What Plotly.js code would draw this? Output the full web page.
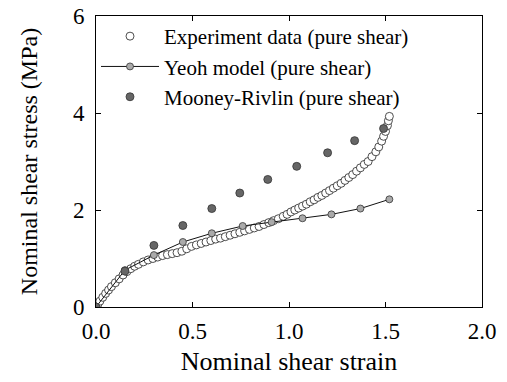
<!DOCTYPE html>
<html>
<head>
<meta charset="utf-8">
<script src="https://cdn.plot.ly/plotly-3.0.1.min.js"></script>
<style>html,body{margin:0;padding:0;background:#fff;}#chart{width:507px;height:382px;}</style>
</head>
<body>
<div id="chart"></div>
<script>
var expX = [0, 0.01, 0.02, 0.035, 0.05, 0.065, 0.08, 0.1, 0.12, 0.14, 0.16, 0.18, 0.2, 0.22, 0.245, 0.27, 0.295, 0.32, 0.345, 0.37, 0.395, 0.42, 0.445, 0.47, 0.495, 0.52, 0.545, 0.57, 0.595, 0.62, 0.645, 0.67, 0.695, 0.72, 0.745, 0.77, 0.795, 0.82, 0.845, 0.87, 0.895, 0.92, 0.945, 0.97, 0.99, 1.01, 1.03, 1.05, 1.07, 1.09, 1.11, 1.13, 1.15, 1.17, 1.19, 1.21, 1.23, 1.25, 1.27, 1.29, 1.31, 1.33, 1.35, 1.37, 1.39, 1.41, 1.43, 1.45, 1.465, 1.48, 1.49, 1.5, 1.51, 1.515, 1.52];
var expY = [0, 0.06, 0.12, 0.2, 0.28, 0.35, 0.42, 0.5, 0.58, 0.66, 0.73, 0.79, 0.84, 0.88, 0.93, 0.97, 1.0, 1.03, 1.06, 1.08, 1.1, 1.12, 1.15, 1.2, 1.25, 1.28, 1.31, 1.34, 1.37, 1.4, 1.42, 1.45, 1.48, 1.51, 1.54, 1.57, 1.6, 1.63, 1.66, 1.7, 1.74, 1.78, 1.82, 1.87, 1.91, 1.96, 2.0, 2.04, 2.08, 2.12, 2.17, 2.21, 2.26, 2.3, 2.35, 2.4, 2.45, 2.5, 2.55, 2.61, 2.67, 2.73, 2.8, 2.87, 2.94, 3.0, 3.1, 3.2, 3.3, 3.42, 3.52, 3.62, 3.74, 3.84, 3.93];
var yeohX = [0, 0.15, 0.3, 0.45, 0.6, 0.76, 0.91, 1.07, 1.22, 1.37, 1.52];
var yeohY = [0, 0.76, 1.07, 1.34, 1.52, 1.67, 1.75, 1.83, 1.91, 2.03, 2.22];
var mrX = [0, 0.15, 0.3, 0.45, 0.6, 0.745, 0.89, 1.04, 1.2, 1.34, 1.49];
var mrY = [0, 0.74, 1.27, 1.68, 2.03, 2.35, 2.63, 2.9, 3.18, 3.43, 3.68];
var xTicks = [0, 0.5, 1.0, 1.5, 2.0];
var xTickText = ["0.0", "0.5", "1.0", "1.5", "2.0"];
var yTicks = [0, 2, 4, 6];
var names = ["Experiment data (pure shear)", "Yeoh model (pure shear)", "Mooney-Rivlin (pure shear)"];

var font = "Liberation Serif, Times New Roman, serif";
var traces = [
  {x: expX, y: expY, name: names[0], mode: "markers", type: "scatter",
   marker: {symbol: "circle", size: 8, color: "#ffffff", line: {color: "#222", width: 0.8}}},
  {x: yeohX, y: yeohY, name: names[1], mode: "lines+markers", type: "scatter",
   line: {color: "#111", width: 1},
   marker: {symbol: "circle", size: 7, color: "#aaaaaa", line: {color: "#333", width: 0.8}}},
  {x: mrX, y: mrY, name: names[2], mode: "markers", type: "scatter",
   marker: {symbol: "circle", size: 8, color: "#666666", line: {color: "#333", width: 0.8}}}
];
var axisCommon = {showline: true, linecolor: "#000", linewidth: 1, mirror: "ticks", ticks: "inside",
  ticklen: 5, tickcolor: "#000", showgrid: false, zeroline: false,
  tickfont: {family: font, size: 23, color: "#000"}};
var layout = {
  width: 507, height: 382,
  margin: {l: 96, r: 25, t: 16, b: 75},
  paper_bgcolor: "#fff", plot_bgcolor: "#fff",
  showlegend: true,
  legend: {x: 0.0, y: 1.0, xanchor: "left", yanchor: "top", bgcolor: "rgba(0,0,0,0)",
    font: {family: font, size: 21, color: "#000"}, itemwidth: 58, tracegroupgap: 0},
  xaxis: Object.assign({}, axisCommon, {range: [0, 2.0], tickvals: xTicks, ticktext: xTickText,
    ticklabelstandoff: 3,
    title: {text: "Nominal shear strain", font: {family: font, size: 26, color: "#000"}, standoff: 9}}),
  yaxis: Object.assign({}, axisCommon, {range: [0, 6], tickvals: yTicks, ticklabelstandoff: 6,
    title: {text: "Nominal shear stress (MPa)", font: {family: font, size: 24, color: "#000"}, standoff: 28}})
};
Plotly.newPlot("chart", traces, layout, {displayModeBar: false, staticPlot: true});
</script>
</body>
</html>
